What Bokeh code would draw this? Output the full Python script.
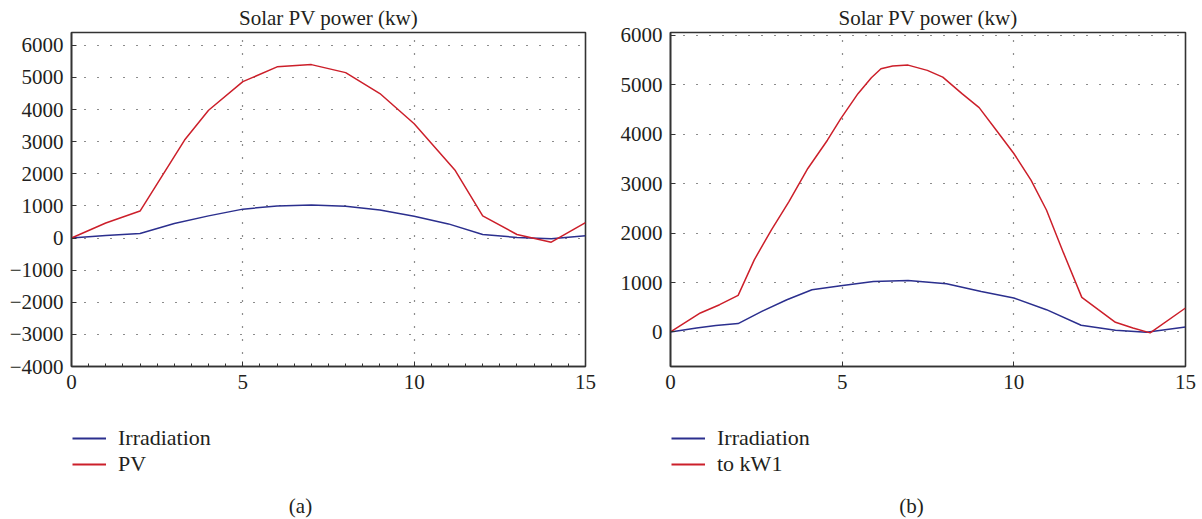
from bokeh.plotting import figure
from bokeh.models import FixedTicker, Range1d, Legend, LegendItem, Label
from bokeh.layouts import row, column
from bokeh.embed import file_html
from bokeh.resources import INLINE

# ---------------- data ----------------
title_text = "Solar PV power (kw)"

# panel (a)
a_irr_x = [0, 1, 2, 3, 4, 5, 6, 7, 8, 9, 10, 11, 12, 13, 14, 15]
a_irr_y = [0, 80, 140, 450, 690, 900, 1000, 1030, 990, 870, 680, 440, 110, 20, -20, 70]
a_pv_x = [0, 1, 2, 3.3, 4, 5, 6, 7, 8, 9, 10, 11.2, 12, 13, 14, 15]
a_pv_y = [0, 470, 840, 3050, 3980, 4870, 5330, 5400, 5150, 4500, 3560, 2100, 690, 110, -130, 480]

# panel (b)
b_irr_x = [0, 0.76, 1.32, 1.97, 2.66, 3.39, 4.12, 4.96, 5.91, 6.92, 8.04, 9.05, 10.0, 10.95, 11.96, 12.96, 13.86, 15]
b_irr_y = [0, 81, 128, 168, 417, 652, 854, 935, 1022, 1042, 975, 820, 686, 450, 134, 34, -7, 101]
b_pv_x = [0, 0.87, 1.43, 1.97, 2.44, 2.94, 3.45, 4.0, 4.57, 4.96, 5.46, 5.85, 6.13, 6.47, 6.92, 7.48,
          7.93, 8.49, 8.99, 9.49, 10.0, 10.5, 10.95, 11.45, 11.98, 12.46, 12.96, 13.47, 13.97, 15]
b_pv_y = [0, 383, 551, 740, 1459, 2065, 2636, 3308, 3880, 4317, 4822, 5145, 5326, 5380, 5400, 5293,
          5158, 4822, 4539, 4082, 3611, 3073, 2468, 1594, 699, 451, 195, 81, -20, 484]

x_ticks = [0, 5, 10, 15]
a_y_ticks = [-4000, -3000, -2000, -1000, 0, 1000, 2000, 3000, 4000, 5000, 6000]
b_y_ticks = [0, 1000, 2000, 3000, 4000, 5000, 6000]

a_labels = ["Irradiation", "PV"]
b_labels = ["Irradiation", "to kW1"]
captions = ["(a)", "(b)"]

RED = "#cc1f2a"
BLUE = "#2b2f8e"
FONT = "'Liberation Serif', 'DejaVu Serif', serif"
TXT = "#231f20"


def tick_overrides(ticks):
    return {t: (str(t).replace("-", "\u2212")) for t in ticks}


def make_panel(width, bl, br, yr, yticks, irr_x, irr_y, pv_x, pv_y, minor):
    p = figure(width=width, height=400, output_backend="svg", toolbar_location=None,
               x_range=Range1d(0, 15), y_range=Range1d(*yr),
               min_border_left=bl, min_border_right=br, min_border_top=32,
               min_border_bottom=34, background_fill_color="white",
               border_fill_color="white")
    p.title.text = title_text
    p.title.align = "center"
    p.title.text_font = FONT
    p.title.text_font_size = "21px"
    p.title.text_font_style = "normal"
    p.title.text_color = TXT
    p.title.standoff = 5
    p.title.offset = 0

    p.outline_line_color = "#333333"
    p.outline_line_width = 1.6
    p.outline_line_alpha = 1.0

    p.xaxis.ticker = FixedTicker(ticks=x_ticks, minor_ticks=minor)
    p.yaxis.ticker = FixedTicker(ticks=yticks)
    p.yaxis.major_label_overrides = tick_overrides(yticks)
    for ax in (p.xaxis[0], p.yaxis[0]):
        ax.axis_line_color = "#333333"
        ax.axis_line_width = 1.6
        ax.major_tick_in = 5
        ax.major_tick_out = 0
        ax.minor_tick_in = 3
        ax.minor_tick_out = 0
        ax.major_tick_line_color = "#333333"
        ax.minor_tick_line_color = "#333333"
        ax.major_label_text_font = FONT
        ax.major_label_text_font_size = "21px"
        ax.major_label_text_color = TXT
    p.xaxis.major_label_standoff = 8
    p.yaxis.major_label_standoff = 8
    p.yaxis.minor_tick_line_color = None

    p.xgrid.ticker = FixedTicker(ticks=x_ticks)
    p.ygrid.ticker = FixedTicker(ticks=yticks)
    for g in (p.xgrid[0], p.ygrid[0]):
        g.grid_line_color = "#000000"
        g.grid_line_dash = "1 12"
        g.grid_line_width = 1.2
        g.grid_line_alpha = 0.9

    p.line(irr_x, irr_y, line_color=BLUE, line_width=1.5)
    p.line(pv_x, pv_y, line_color=RED, line_width=1.5)
    return p


def make_footer(width, fw, labels, caption, cap_x):
    # the footer's frame is aligned with the chart frame above it (fw px wide)
    f = figure(width=width, height=119, output_backend="svg", toolbar_location=None,
               x_range=Range1d(0, fw), y_range=Range1d(0, 119),
               min_border=0, min_border_left=0, min_border_right=0,
               min_border_top=0, min_border_bottom=0,
               x_axis_location=None, y_axis_location=None,
               background_fill_color="white", border_fill_color="white")
    f.outline_line_color = None
    f.grid.visible = False
    # legend-only renderers (their data lie outside the visible range)
    r1 = f.line(x=[-10, -5], y=[-50, -50], line_color=BLUE, line_width=1.8)
    r2 = f.line(x=[-10, -5], y=[-50, -50], line_color=RED, line_width=1.8)
    leg = Legend(items=[LegendItem(label=labels[0], renderers=[r1]),
                        LegendItem(label=labels[1], renderers=[r2])],
                 location=(1, 42), orientation="vertical",
                 padding=0, margin=0, spacing=0,
                 glyph_width=34, glyph_height=22, label_height=22,
                 label_standoff=12, border_line_color=None,
                 background_fill_alpha=0,
                 label_text_font=FONT, label_text_font_size="22px",
                 label_text_color=TXT)
    f.add_layout(leg, "center")
    f.add_layout(Label(x=cap_x, y=14, text=caption, text_align="center",
                       text_baseline="middle", text_font=FONT, text_font_size="21px",
                       text_color=TXT))
    return f


pa = make_panel(600, 71, 15, (-4000, 6400), a_y_ticks, a_irr_x, a_irr_y, a_pv_x, a_pv_y,
                [i * 0.5 for i in range(31)])
pb = make_panel(602, 70, 17, (-700, 6060), b_y_ticks, b_irr_x, b_irr_y, b_pv_x, b_pv_y, [])
fa = make_footer(600, 514, a_labels, captions[0], 229)
fb = make_footer(602, 515, b_labels, captions[1], 241)

layout = row(column(pa, fa, spacing=0), column(pb, fb, spacing=0), spacing=0)
open("out.html", "w").write(file_html(layout, INLINE))
